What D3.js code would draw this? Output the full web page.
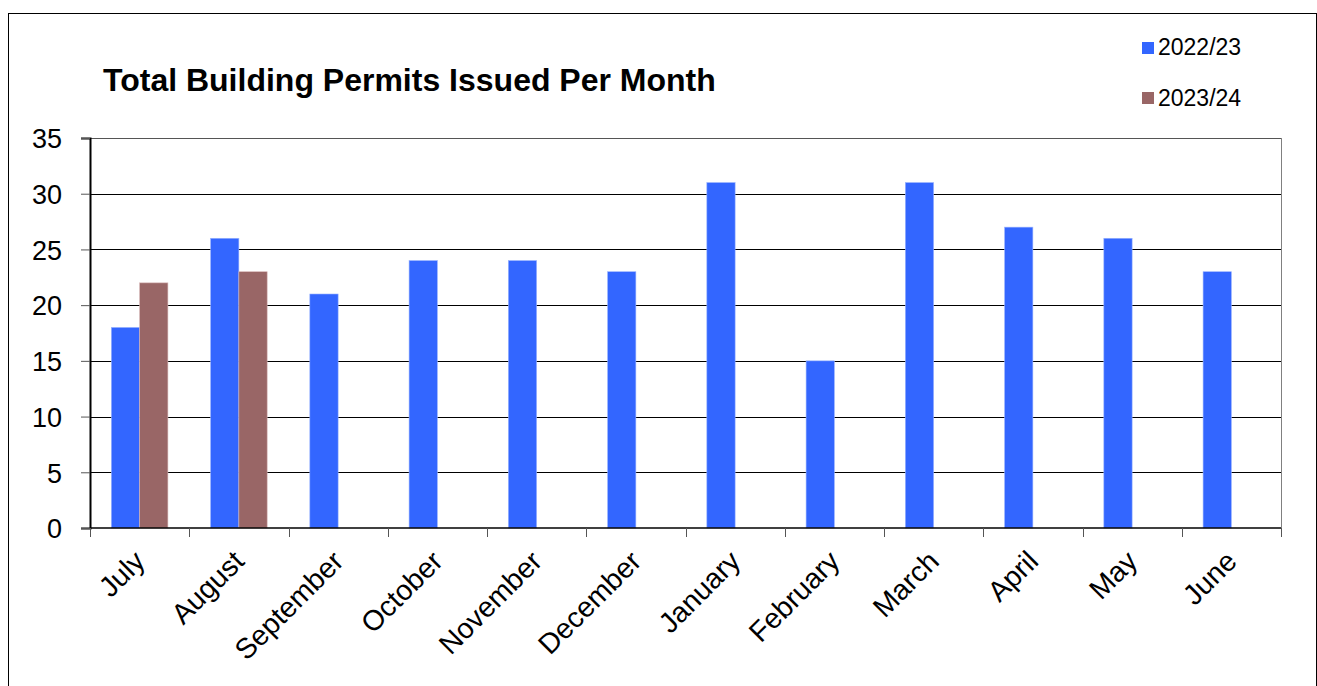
<!DOCTYPE html>
<html><head><meta charset="utf-8">
<script src="https://cdn.jsdelivr.net/npm/d3@7"></script>
<style>body{margin:0;background:#fff}svg{display:block;font-family:Arial,"Liberation Sans",sans-serif}</style>
</head><body>
<script>
const months = ["July","August","September","October","November","December","January","February","March","April","May","June"];
const series = ["2022/23","2023/24"];
const values2022 = [18,26,21,24,24,23,31,15,31,27,26,23];
const values2023 = [22,23,null,null,null,null,null,null,null,null,null,null];
const colors = ["#3366FF","#996666"];
const yTicks = [0,5,10,15,20,25,30,35];

const W=1317,H=686;
const svg=d3.select("body").append("svg").attr("width",W).attr("height",H);
svg.append("rect").attr("x",8.5).attr("y",13.5).attr("width",1308).attr("height",H).attr("fill","none").attr("stroke","#000").attr("stroke-width",1);

const L=90,R=1281,T=138,B=528;
const x=d3.scaleBand().domain(months).range([L,R]);
const y=d3.scaleLinear().domain([0,35]).range([B,T]);
const bw=x.bandwidth()*0.285;
const groupOff=(x.bandwidth()-2*bw)/2;

// gridlines
svg.append("g").selectAll("line").data(yTicks.filter(d=>d>0&&d<35)).join("line")
 .attr("x1",L).attr("x2",R).attr("y1",d=>Math.round(y(d))+0.5).attr("y2",d=>Math.round(y(d))+0.5)
 .attr("stroke","#000").attr("stroke-width",1);
// plot border top/right
svg.append("line").attr("x1",L).attr("x2",R).attr("y1",T+0.5).attr("y2",T+0.5).attr("stroke","#555");
svg.append("line").attr("x1",R+0.5).attr("x2",R+0.5).attr("y1",T).attr("y2",B).attr("stroke","#808080");

// bars
const data=[values2022,values2023];
data.forEach((vals,si)=>{
  svg.append("g").selectAll("rect").data(months.map((m,i)=>({m,v:vals[i]})).filter(d=>d.v!=null)).join("rect")
   .attr("x",d=>x(d.m)+groupOff+si*bw).attr("y",d=>y(d.v)).attr("width",bw).attr("height",d=>y(0)-y(d.v))
   .attr("fill",colors[si]).attr("stroke",si?"#d8b8b8":"#99b3ff").attr("stroke-width",0.6);
});

// y axis
const yAxis=d3.axisLeft(y).tickValues(yTicks).tickSize(9).tickPadding(6);
const ya=svg.append("g").attr("transform",`translate(${L},0)`).call(yAxis);
ya.select(".domain").attr("stroke","#000").attr("stroke-width",2);
ya.selectAll(".tick line").attr("stroke","#555");
ya.selectAll("text").attr("font-size",27).attr("fill","#000").attr("dx",-13).attr("dy","0.36em");

// x axis
const xa=svg.append("g").attr("transform",`translate(0,${B})`);
xa.append("line").attr("x1",L).attr("x2",R).attr("y1",0).attr("y2",0).attr("stroke","#000").attr("stroke-width",1.5);
xa.selectAll(".t").data(d3.range(13)).join("line").attr("class","t")
  .attr("x1",i=>Math.round(L+i*x.step())+0.5).attr("x2",i=>Math.round(L+i*x.step())+0.5).attr("y1",0).attr("y2",9).attr("stroke","#555");
xa.selectAll("text").data(months).join("text")
  .attr("transform",d=>`translate(${x(d)+x.bandwidth()/2+7},${35}) rotate(-45)`)
  .attr("text-anchor","end").attr("font-size",28.5).attr("fill","#000").text(d=>d);

// title
svg.append("text").attr("x",103).attr("y",91).attr("font-size",32).attr("font-weight","bold").text("Total Building Permits Issued Per Month");

// legend
const lg=svg.append("g");
series.forEach((s,i)=>{
  lg.append("rect").attr("x",1142).attr("y",42+i*50).attr("width",12).attr("height",12).attr("fill",colors[i]);
  lg.append("text").attr("x",1158).attr("y",55+i*51).attr("font-size",23).text(s);
});
</script>
</body></html>
